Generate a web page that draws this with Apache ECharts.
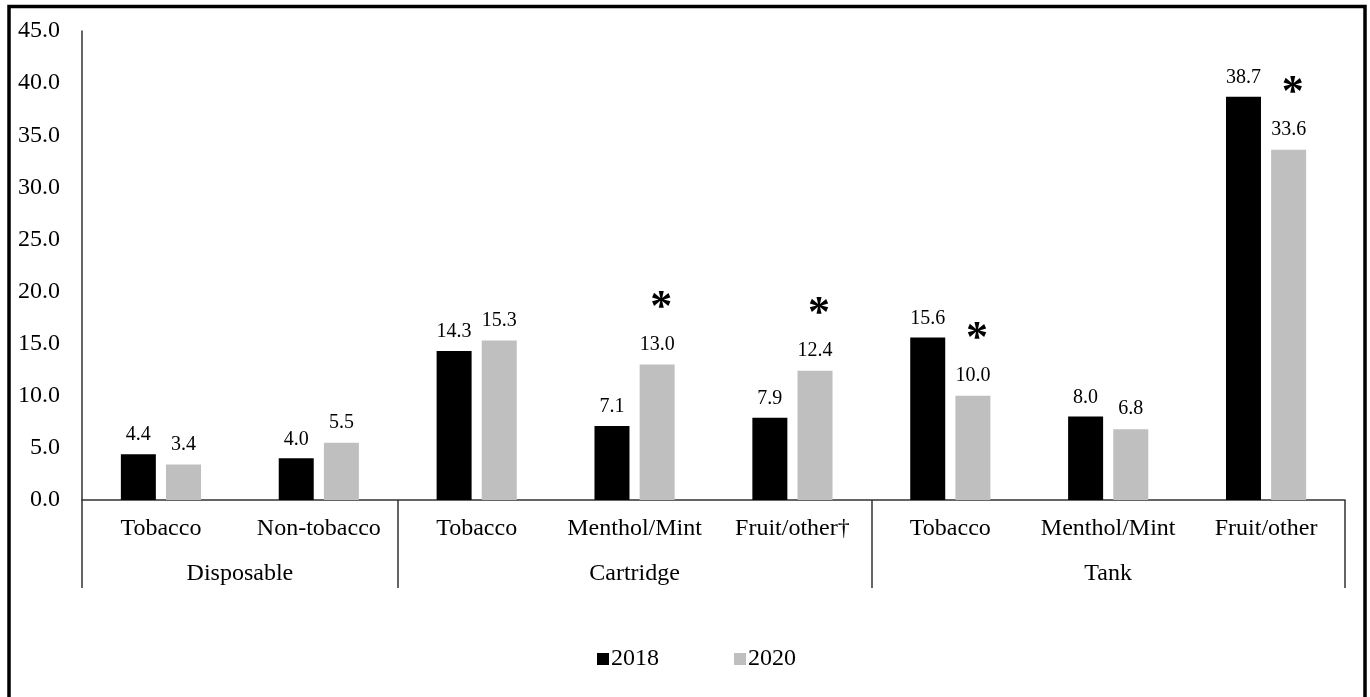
<!DOCTYPE html>
<html><head><meta charset="utf-8">
<script src="https://cdn.jsdelivr.net/npm/echarts@6/dist/echarts.min.js"></script>
<style>html,body{margin:0;padding:0;background:#fff}#c{width:1370px;height:697px}</style>
</head><body><div id="c"></div>
<script>
var categories = ['Tobacco','Non-tobacco','Tobacco','Menthol/Mint','Fruit/other\u2020','Tobacco','Menthol/Mint','Fruit/other'];
var groups = ['Disposable','Cartridge','Tank'];
var groupSizes = [2,3,3];
var values2018 = [4.4, 4.0, 14.3, 7.1, 7.9, 15.6, 8.0, 38.7];
var values2020 = [3.4, 5.5, 15.3, 13.0, 12.4, 10.0, 6.8, 33.6];
var significant = [false, false, false, true, true, true, false, true];
var yTicks = [0,5,10,15,20,25,30,35,40,45];

var FONT = '"Liberation Serif", "Times New Roman", serif';
var bounds = [0]; groupSizes.forEach(function(s){ bounds.push(bounds[bounds.length-1]+s); });
var centers = groupSizes.map(function(s,i){ return bounds[i] + s/2; });

var chart = echarts.init(document.getElementById('c'));
chart.setOption({
  animation: false,
  backgroundColor: '#fff',
  textStyle: {fontFamily: FONT, color: '#000'},
  grid: {left: 82, right: 25, top: 31, bottom: 197, containLabel: false},
  legend: {
    data: ['2018','2020'], left: 592, top: 642, itemWidth: 12, itemHeight: 12, itemGap: 75,
    icon: 'rect', textStyle: {fontFamily: FONT, fontSize: 24, color: '#000', padding: [0,0,0,-3]}
  },
  xAxis: [{
    type: 'category', data: categories, position: 'bottom',
    axisLine: {show: true, lineStyle: {color: '#333', width: 1.5}},
    axisTick: {show: false},
    axisLabel: {fontFamily: FONT, fontSize: 24, color: '#000', margin: 17, interval: 0}
  }, {
    type: 'value', min: 0, max: bounds[bounds.length-1], position: 'bottom',
    axisLine: {show: false},
    splitLine: {show: false},
    axisTick: {show: true, customValues: bounds, length: 88, inside: false, lineStyle: {color: '#333', width: 1.5}},
    axisLabel: {show: true, customValues: centers, margin: 62, fontFamily: FONT, fontSize: 24, color: '#000',
      formatter: function(v){ var i = centers.indexOf(v); return i >= 0 ? groups[i] : ''; }}
  }],
  yAxis: {
    type: 'value', min: 0, max: 45, interval: 5,
    axisLine: {show: true, lineStyle: {color: '#333', width: 1.5}},
    axisTick: {show: false}, splitLine: {show: false},
    axisLabel: {fontFamily: FONT, fontSize: 24, color: '#000', margin: 22,
      formatter: function(v){ return v.toFixed(1); }}
  },
  series: [{
    name: '2018', type: 'bar', data: values2018, barWidth: 35, barGap: '29%',
    itemStyle: {color: '#000'},
    label: {show: true, position: 'top', distance: 9, fontFamily: FONT, fontSize: 20, color: '#000',
      formatter: function(p){ return p.value.toFixed(1); }}
  }, {
    name: '2020', type: 'bar', data: values2020, barWidth: 35, barGap: '29%',
    itemStyle: {color: '#bfbfbf'},
    label: {show: true, position: 'top', distance: 9, color: '#000',
      formatter: function(p){
        var t = '{v|' + p.value.toFixed(1) + '}';
        return significant[p.dataIndex] ? '{s|*}\n' + t : t;
      },
      rich: {
        v: {fontFamily: FONT, fontSize: 20, color: '#000', lineHeight: 22},
        s: {fontFamily: FONT, fontSize: 44, fontWeight: 'bold', color: '#000', lineHeight: 50, padding: [0,0,0,8]}
      }
    }
  }],
  graphic: [{
    type: 'rect', silent: true, z: 100,
    shape: {x: 9, y: 6.5, width: 1356, height: 800},
    style: {fill: 'none', stroke: '#000', lineWidth: 3.5}
  }]
});
</script>
</body></html>
